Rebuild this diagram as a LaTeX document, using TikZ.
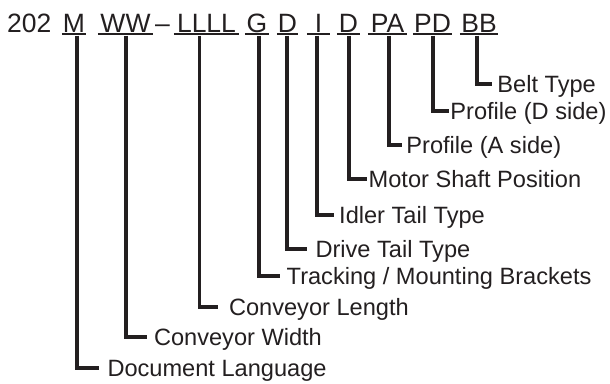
\documentclass[tikz,border=0pt]{standalone}
\usepackage{fontspec}
\setmainfont{Liberation Sans}
\definecolor{ink}{HTML}{231F20}
\newcommand{\labfont}{\fontsize{23.6}{28}\selectfont}
\newcommand{\codefont}{\fontsize{26.5}{30}\selectfont}
\tikzset{
  code/.style={anchor=base, inner sep=0pt, font=\codefont, text=ink, align=center},
  uline/.style={draw=ink, line width=1.8pt},
  lab/.style={anchor=west, inner ysep=0pt, text height=16.9pt, text depth=0pt, font=\labfont, text=ink},
  conn/.style={draw=ink, line width=3.8pt, line join=miter, line cap=butt}
}
\begin{document}
\begin{tikzpicture}[x=1pt,y=-1pt]
\useasboundingbox (0,0) rectangle (610,383);
% code row
\node[code, anchor=base west] (pre) at (7,32) {202};
\node[code, minimum width=24pt] (cm) at (74,32) {M};
\node[code, minimum width=55pt] (cw) at (125.5,32) {WW};
\node[code] (dash) at (162.5,32) {–};
\node[code, minimum width=65pt] (cl) at (206.5,32) {LLLL};
\node[code, minimum width=24pt] (cg) at (257,32) {G};
\node[code, minimum width=21pt] (cd) at (287.5,32) {D};
\node[code, minimum width=23pt] (ci) at (318.5,32) {I};
\node[code, minimum width=23pt] (cd2) at (348.5,32) {D};
\node[code, minimum width=39pt] (cpa) at (387.5,32) {PA};
\node[code, minimum width=39pt] (cpd) at (432.5,32) {PD};
\node[code, minimum width=38pt] (cbb) at (479,32) {BB};
\foreach \n in {cm,cw,cl,cg,cd,ci,cd2,cpa,cpd,cbb}
  \draw[uline] ([yshift=-2pt]\n.base west) -- ([yshift=-2pt]\n.base east);
% connector tops
\coordinate (tm) at (77,35.5);
\coordinate (tw) at (126,35.5);
\coordinate (tl) at (199.5,35.5);
\coordinate (tg) at (259,35.5);
\coordinate (td) at (287,35.5);
\coordinate (ti) at (317,35.5);
\coordinate (td2) at (349,35.5);
\coordinate (tpa) at (389,35.5);
\coordinate (tpd) at (433,35.5);
\coordinate (tbb) at (477,35.5);
% labels
\node[lab, inner xsep=8.3pt] (lm) at (99,368) {Document Language};
\node[lab, inner xsep=6.8pt] (lw) at (147,337) {Conveyor Width};
\node[lab, inner xsep=10.8pt] (ll) at (218,307) {Conveyor Length};
\node[lab, inner xsep=6.5pt] (lg) at (280,276) {Tracking / Mounting Brackets};
\node[lab, inner xsep=8.3pt] (ld) at (307,249) {Drive Tail Type};
\node[lab, inner xsep=5pt] (li) at (334,215) {Idler Tail Type};
\node[lab, inner xsep=1.5pt] (ld2) at (367,179) {Motor Shaft Position};
\node[lab, inner xsep=4.2pt] (lpa) at (402,145) {Profile (A side)};
\node[lab, inner xsep=1.2pt] (lpd) at (449,111) {Profile (D side)};
\node[lab, inner xsep=5.2pt] (lbb) at (492,84) {Belt Type};
% connectors
\draw[conn] (tm) |- (lm.west);
\draw[conn] (tw) |- (lw.west);
\draw[conn] (tl) |- (ll.west);
\draw[conn] (tg) |- (lg.west);
\draw[conn] (td) |- (ld.west);
\draw[conn] (ti) |- (li.west);
\draw[conn] (td2) |- (ld2.west);
\draw[conn] (tpa) |- (lpa.west);
\draw[conn] (tpd) |- (lpd.west);
\draw[conn] (tbb) |- (lbb.west);
\end{tikzpicture}
\end{document}
